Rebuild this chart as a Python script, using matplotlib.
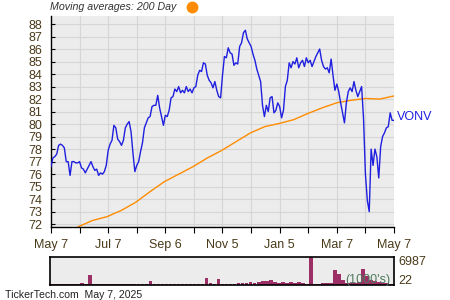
import pandas as pd
import matplotlib.pyplot as plt
from matplotlib.lines import Line2D

plt.rcParams['font.family'] = ['Liberation Sans', 'DejaVu Sans']

# daily-ish closes of VONV (May 7 2024 -> May 7 2025)
close = [
    76.6, 77.3, 77.4, 77.6, 78.3, 78.4, 78.3, 78.1, 77.0, 77.0, 75.9, 77.0,
    77.0, 76.9, 76.9, 77.0, 76.5, 76.4, 76.1, 76.4, 76.7, 77.0, 76.6, 76.3,
    76.4, 75.9, 76.1, 76.0, 76.2, 76.7, 77.9, 78.4, 78.7, 79.9, 79.7, 78.8,
    78.6, 78.3, 78.7, 79.7, 80.0, 80.2, 79.4, 77.7, 76.2, 76.7, 77.0,
    77.8, 78.5, 79.7, 80.1, 80.5, 80.6, 81.4, 81.5, 81.5, 82.3, 81.3, 80.6,
    79.9, 80.7, 80.6, 81.1, 82.1, 82.2, 82.8, 82.6, 83.0, 82.5, 82.7, 82.5,
    83.0, 82.6, 82.8, 82.5, 82.9, 83.0, 83.9, 84.3, 84.2, 84.9, 84.8, 83.9,
    83.5, 83.3, 82.9, 83.4, 82.7, 82.2, 82.1, 83.9, 85.4, 85.3, 86.1, 85.7,
    85.6, 84.7, 84.9, 84.8, 86.2, 86.5, 87.3, 87.5, 86.8, 86.5, 86.2, 85.6,
    85.1, 84.4, 83.9, 83.4, 81.5, 80.6, 81.5, 81.0, 82.1, 82.2, 80.9, 81.1,
    81.7, 81.4, 80.5, 81.1, 83.0, 83.5, 84.9, 84.5, 85.0, 84.8, 85.3, 84.5,
    84.9, 85.1, 84.6, 85.3, 84.9, 85.1, 84.6, 85.0, 85.4, 85.7, 86.0, 85.1,
    84.6, 84.4, 84.5, 84.1, 85.2, 83.9, 82.7, 83.2, 82.6, 81.7, 80.9, 80.1,
    81.7, 82.6, 82.9, 82.6,
    83.4, 82.7, 82.2, 82.6, 83.0, 80.5, 76.0, 73.9, 73.0, 78.0, 76.7, 78.0,
    77.4, 75.7, 78.2, 79.0, 79.3, 79.7, 79.8, 80.9, 80.3, 80.3,
]

# 200 day moving average, half-month samples
ma200 = [71.8, 72.3, 72.6, 73.1, 73.75, 74.6, 75.4, 76.0, 76.6, 77.3, 77.9,
         78.6, 79.3, 79.8, 80.05, 80.35, 80.85, 81.3, 81.7, 81.9, 82.05, 82.0,
         82.25]

# volume in thousands
volume = [250, 200, 230, 150, 200, 260, 240, 280, 420, 350, 2500, 300,
          280, 260, 250, 240, 260, 240, 150, 220, 250, 200, 260, 230,
          300, 900, 350, 280, 250, 300, 260, 280, 250, 200, 300, 250,
          220, 260, 300, 1700, 400, 250, 1600, 300, 280, 350, 300, 380,
          400, 600, 700, 550, 800, 900, 1000, 1200, 800, 600, 700, 500,
          650, 500, 700, 450, 300, 6987, 300, 350, 500, 450, 500, 3800,
          2600, 1200, 500, 400, 600, 800, 3900, 2100, 1300, 1000, 700, 500,
          400, 350]

tick_labels = ['May 7', '', 'Jul 7', '', 'Sep 6', '', 'Nov 5', '', 'Jan 5', '',
               'Mar 7', '', 'May 7']

start, end = pd.Timestamp('2024-05-07'), pd.Timestamp('2025-05-07')
dates = pd.date_range(start, end, periods=len(close))
ma_dates = pd.date_range('2024-06-05', end, periods=len(ma200))
vol_dates = pd.date_range(start, '2025-05-04', periods=len(volume))
tick_dates = pd.date_range(start, end, periods=len(tick_labels))

text_col = '#4a3a1a'
bg = '#ececec'

fig = plt.figure(figsize=(4.5, 3), dpi=100)
ax = fig.add_axes([51 / 450, 1 - 226.7 / 300, 343 / 450, 210.7 / 300])
ax.set_facecolor(bg)

ax.plot(dates, close, color='#1f1fe0', lw=1.0, zorder=3)
ax.plot(ma_dates, ma200, color='#ff8c00', lw=1.0, zorder=2)

ax.set_xlim(start, end)
ax.set_ylim(71.8, 88.64)
ax.set_yticks(range(72, 89))
ax.set_xticks(tick_dates)
ax.set_xticklabels(tick_labels)
ax.grid(True, color='#d6d6d6', lw=0.8)
ax.set_axisbelow(True)
for s in ['top', 'right']:
    ax.spines[s].set_visible(False)
for s in ['left', 'bottom']:
    ax.spines[s].set_color('black')
    ax.spines[s].set_linewidth(1.0)
ax.tick_params(axis='y', direction='in', length=3, pad=6, labelsize=9,
               labelcolor=text_col)
ax.tick_params(axis='x', direction='out', length=4, pad=5, labelsize=9,
               labelcolor=text_col)

ax.annotate('VONV', xy=(dates[-1], close[-1]), xytext=(3, 3),
            textcoords='offset pixels', va='center', ha='left',
            color='#1f1fe0', fontsize=9)

# legend line at top
fig.text(50 / 450, 1 - 7 / 300, 'Moving averages: 200 Day', fontsize=7.7,
         style='italic', color='#333333', va='center', ha='left')
fig.add_artist(Line2D([192 / 450], [1 - 7 / 300], marker='o', markersize=7.5,
                      color='#ff8c00', transform=fig.transFigure))

# volume panel
axv = fig.add_axes([50 / 450, 1 - 285 / 300, 344 / 450, 28.3 / 300])
axv.set_facecolor(bg)
axv.bar(vol_dates, volume, width=3.8, color='#9b2f66')
axv.set_xlim(start, end)
axv.set_ylim(0, 6987)
axv.set_xticks([])
axv.set_yticks([])
for s in axv.spines.values():
    s.set_linewidth(1.2)
axv.text(1.012, 0.81, '6987', transform=axv.transAxes, fontsize=9,
         color=text_col, va='center', ha='left')
axv.text(1.012, 0.14, '22', transform=axv.transAxes, fontsize=9,
         color=text_col, va='center', ha='left')
axv.text(0.99, 0.17, "(1000's)", transform=axv.transAxes, fontsize=9,
         color='#4f7a5c', va='center', ha='right')

fig.text(5 / 450, 1 - 295 / 300, 'TickerTech.com  May 7, 2025', fontsize=7.6,
         color='#222222', va='center', ha='left')

fig.savefig('out.png', dpi=100)
